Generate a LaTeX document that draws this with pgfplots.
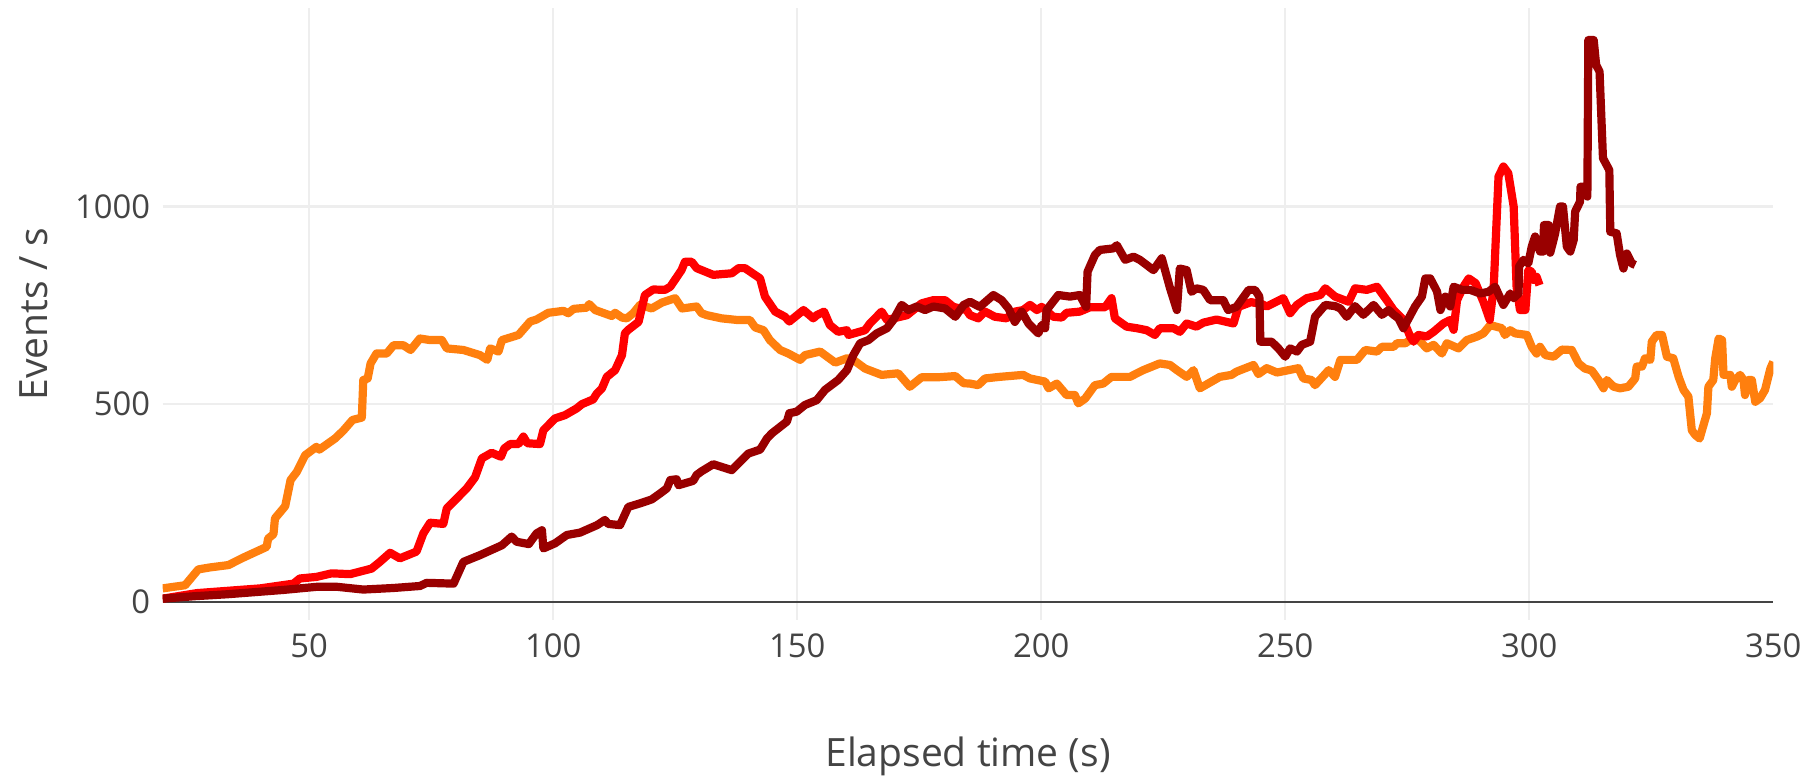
\documentclass[border=0pt]{standalone}
\usepackage{fontspec}
\setmainfont{Open Sans}
\usepackage{pgfplots}
\pgfplotsset{compat=1.18}
\definecolor{cOrange}{HTML}{FF7F0E}
\definecolor{cRed}{HTML}{FF0000}
\definecolor{cDark}{HTML}{990000}
\definecolor{cGrid}{HTML}{EEEEEE}
\definecolor{cText}{HTML}{444444}
\begin{document}
\begin{tikzpicture}
\useasboundingbox (0,0) rectangle (904.5pt,388pt);
\begin{axis}[
  at={(81.35pt,78pt)}, anchor=south west,
  scale only axis, width=805.3pt, height=305.8pt,
  xmin=20, xmax=350, ymin=-46, ymax=1501,
  axis line style={draw=none},
  major tick length=0pt,
  /pgf/number format/assume math mode=true,
  /pgf/number format/1000 sep={},
  xtick={50,100,...,300}, extra x ticks={350}, extra x tick style={grid=none},
  ytick={500,1000}, extra y ticks={0},
  extra y tick style={grid=major, major grid style={color=cText, line width=1.2pt}},
  grid=major, major grid style={color=cGrid, line width=1.2pt},
  tick label style={font=\fontsize{16.4}{19}\selectfont, text=cText},
  yticklabel style={xshift=-2.7pt},
  xticklabel style={yshift=-3.2pt},
  xlabel={Elapsed time (s)}, ylabel={Events / s},
  label style={font=\fontsize{19.5}{23}\selectfont, text=cText},
  xlabel style={at={(axis description cs:0.5,0)}, anchor=base, yshift=-73pt},
  ylabel style={at={(axis description cs:0,0.5)}, anchor=base, yshift=57.8pt},
  every axis plot/.append style={line width=4.1pt, line join=round, no markers},
  clip=true,
]
\addplot[cOrange] coordinates {
(20,34)(24.6,42)(27.3,82)(29.7,87)(33.5,93)(36.2,110)(41.3,139)(41.6,160)(42.7,171)(43.0,211)
(45.1,242)(46.2,308)(47.5,329)(49.2,371)(51.5,392)(52.1,385)(55.3,413)(57.0,433)(58.9,460)(60.8,466)
(61.1,561)(62.0,565)(62.6,603)(63.8,628)(65.9,628)(67.3,649)(69.3,649)(70.8,637)(72.7,666)(74.8,662)
(77.2,662)(78.2,641)(81.6,637)(85.0,624)(86.5,612)(87.1,641)(88.8,633)(89.5,662)(92.9,675)(95.3,709)
(96.6,714)(99.0,731)(102.1,736)(103.1,730)(104.2,741)(106.9,744)(107.4,753)(108.6,738)(112.0,723)(112.7,731)
(114.1,719)(115.1,717)(116.4,730)(117.8,751)(120.2,742)(122.3,757)(125.0,768)(126.4,742)(129.4,747)(130.4,730)
(131.5,725)(134.5,717)(137.6,713)(140.3,713)(141.4,694)(143.1,687)(144.4,662)(146.5,637)(148.2,628)(150.6,612)
(151.6,624)(154.7,633)(157.8,605)(160.2,616)(161.5,612)(163.9,590)(167.3,574)(170.7,578)(173.1,544)(175.5,568)
(178.9,568)(182.4,571)(184.1,553)(185.4,552)(187.1,548)(188.5,565)(191.5,569)(196.3,574)(197.7,565)(200.8,557)
(201.5,540)(203.2,552)(205.2,523)(206.9,523)(207.6,502)(209.0,514)(211.0,548)(212.7,552)(214.4,569)(218.2,569)
(219.6,578)(220.9,586)(224.3,603)(226.4,599)(227.8,586)(229.8,569)(231.2,586)(232.5,540)(236.6,569)(239.0,574)
(240.0,582)(240.8,586)(243.5,599)(244.5,576)(246.2,591)(248.3,580)(252.7,591)(253.7,565)(255.4,561)(256.1,548)
(257.8,571)(258.9,586)(260.2,569)(261.3,612)(264.7,612)(266.4,637)(268.8,633)(269.8,645)(272.2,645)(272.9,654)
(274.6,654)(276.6,671)(278.0,654)(279.0,641)(280.4,650)(282.1,628)(283.1,654)(285.5,641)(287.2,662)(289.3,671)
(290.6,679)(292.0,700)(294.4,692)(295.0,675)(296.1,687)(297.1,679)(299.5,675)(300.5,645)(301.5,628)(302.2,645)
(303.3,624)(305.0,620)(306.7,638)(308.7,637)(310.1,603)(311.4,590)(312.8,585)(314.2,561)(315.2,540)(315.9,561)
(317.3,544)(318.6,540)(320.3,544)(321.7,565)(322.0,595)(323.1,595)(323.7,616)(324.8,612)(325.1,658)(326.1,675)
(327.2,675)(328.2,620)(329.5,616)(330.6,569)(331.6,536)(332.6,519)(333.3,434)(334.0,422)(334.9,413)(336.4,477)
(336.7,544)(337.7,561)(338.1,616)(338.8,666)(339.5,662)(339.8,574)(341.2,574)(341.5,544)(342.2,561)(343.2,574)
(343.9,561)(344.2,523)(344.9,561)(345.6,561)(346.3,506)(347.3,515)(348.3,536)(349.4,590)(350.0,607)
};
\addplot[cRed] coordinates {
(20,8)(27,22)(40,34)(46.8,46)(48.1,59)(51.5,63)(54.6,72)(58.4,70)(62.8,84)(64.5,101)
(66.6,124)(68.6,110)(72.0,127)(73.4,173)(74.8,200)(77.5,197)(78.2,236)(79.9,257)(82.3,287)(84.0,315)
(85.4,363)(87.4,377)(89.3,367)(90.0,388)(91.2,399)(92.9,399)(93.9,418)(94.7,401)(97.3,399)(98.0,434)
(100.4,464)(102.4,472)(104.8,489)(105.9,500)(108.2,512)(108.9,526)(110.0,540)(111.0,569)(112.7,586)(114.1,624)
(114.7,679)(115.4,688)(117.5,708)(118.8,776)(120.5,790)(122.9,789)(124.0,797)(126.3,839)(127.0,860)(128.4,860)
(129.4,844)(132.8,827)(136.6,831)(138.0,844)(139.3,844)(142.4,818)(143.4,772)(145.5,734)(147.5,721)(148.4,709)
(151.3,738)(153.3,717)(154.0,725)(155.5,734)(156.7,700)(158.4,683)(160.2,687)(160.5,675)(163.9,687)(164.9,704)
(167.3,734)(168.4,713)(172.5,725)(175.5,755)(177.9,763)(180.3,763)(182.0,746)(184.7,738)(185.4,725)(187.1,717)
(188.5,734)(190.5,721)(192.9,717)(194.6,734)(196.3,738)(197.7,751)(199.1,738)(200.1,746)(202.5,721)(204.2,719)
(205.2,731)(207.9,734)(210.0,745)(213.1,745)(214.4,768)(215.1,717)(217.5,696)(219.6,692)(221.6,687)(223.3,675)
(224.3,692)(227.1,692)(228.4,683)(229.8,704)(231.8,696)(233.2,706)(235.9,714)(239.4,704)(240.4,746)(243.0,758)
(245.2,753)(246.2,747)(249.6,768)(251.0,730)(252.4,751)(254.4,768)(257.2,776)(258.2,793)(260.2,772)(263.0,759)
(264.3,793)(266.7,789)(268.8,797)(270.8,763)(272.2,738)(274.2,713)(275.6,671)(276.3,658)(277.3,675)(279.0,671)
(280.4,683)(282.4,704)(283.8,713)(284.5,688)(285.2,763)(286.5,797)(287.6,818)(289.0,806)(290.6,759)(291.9,713)
(292.7,793)(293.7,1076)(294.7,1101)(295.7,1084)(296.8,1000)(297.4,797)(298.1,738)(299.2,738)(299.8,839)(300.5,835)
(300.9,814)(301.5,822)(302.1,801)
};
\addplot[cDark] coordinates {
(20,8)(26.3,14)(33.1,19)(44.7,30)(51.6,38)(55.7,38)(61.1,31)(67.3,35)(72.7,40)(74.1,48)
(79.6,46)(81.6,101)(85.0,118)(89.5,143)(91.5,165)(92.5,152)(95.0,146)(96.6,173)(97.7,181)(98.0,135)
(100.4,148)(102.8,169)(105.5,175)(109.0,194)(110.6,207)(111.3,197)(113.7,194)(115.4,240)(117.8,249)(120.2,259)
(121.9,274)(123.3,287)(124.0,308)(125.3,310)(125.7,295)(128.7,306)(129.4,321)(130.4,330)(132.8,348)(136.6,333)
(140.0,375)(142.4,385)(143.8,413)(144.8,426)(147.9,456)(148.4,477)(149.9,481)(151.6,498)(154.0,510)(155.7,536)
(158.4,561)(160.2,586)(161.5,624)(162.9,654)(164.6,662)(166.3,679)(168.4,692)(169.7,713)(171.4,751)(172.8,738)
(174.5,747)(176.2,738)(177.9,747)(180.3,742)(182.4,721)(184.1,751)(185.4,759)(187.4,746)(190.2,776)(191.9,763)
(193.3,742)(194.6,708)(196.0,734)(197.4,704)(199.4,679)(200.1,700)(200.8,692)(201.1,738)(203.5,776)(205.9,772)
(207.9,776)(209.2,746)(209.5,835)(211.0,877)(212.0,890)(214.8,894)(215.5,902)(217.2,865)(218.9,873)(220.2,865)
(223.0,839)(224.7,869)(226.4,793)(227.8,738)(228.4,843)(229.8,839)(230.8,784)(231.8,793)(233.2,789)(234.6,763)
(237.3,763)(238.3,738)(240.0,746)(242.5,789)(243.8,789)(244.7,772)(244.9,658)(247.2,658)(248.6,641)(250.0,620)
(251.0,641)(252.4,633)(253.4,650)(255.1,658)(256.1,721)(258.2,751)(260.2,748)(261.3,742)(262.6,721)(264.3,748)
(266.0,726)(268.1,751)(269.8,726)(271.2,738)(272.2,726)(273.2,717)(274.2,692)(276.6,747)(278.0,772)(278.7,818)
(279.7,818)(281.1,785)(281.8,738)(282.8,772)(283.8,747)(284.5,797)(286.2,789)(287.9,789)(289.9,780)(291.6,784)
(293.0,797)(294.7,751)(296.1,780)(296.8,768)(297.8,780)(297.9,848)(298.8,865)(299.8,856)(300.5,898)(301.2,924)
(302.2,886)(302.9,886)(303.0,953)(304.0,953)(304.3,883)(305.3,932)(306.3,1000)(306.9,1000)(307.7,898)(308.4,886)
(309.1,915)(309.4,987)(310.4,1012)(310.5,1050)(311.2,1050)(311.9,1025)(312.1,1421)(313.2,1421)(313.7,1358)(314.4,1341)
(315.1,1122)(316.4,1092)(316.6,936)(317.9,932)(318.6,877)(319.3,843)(320.0,881)(321.0,856)(321.7,852)
};
\end{axis}
\end{tikzpicture}
\end{document}
